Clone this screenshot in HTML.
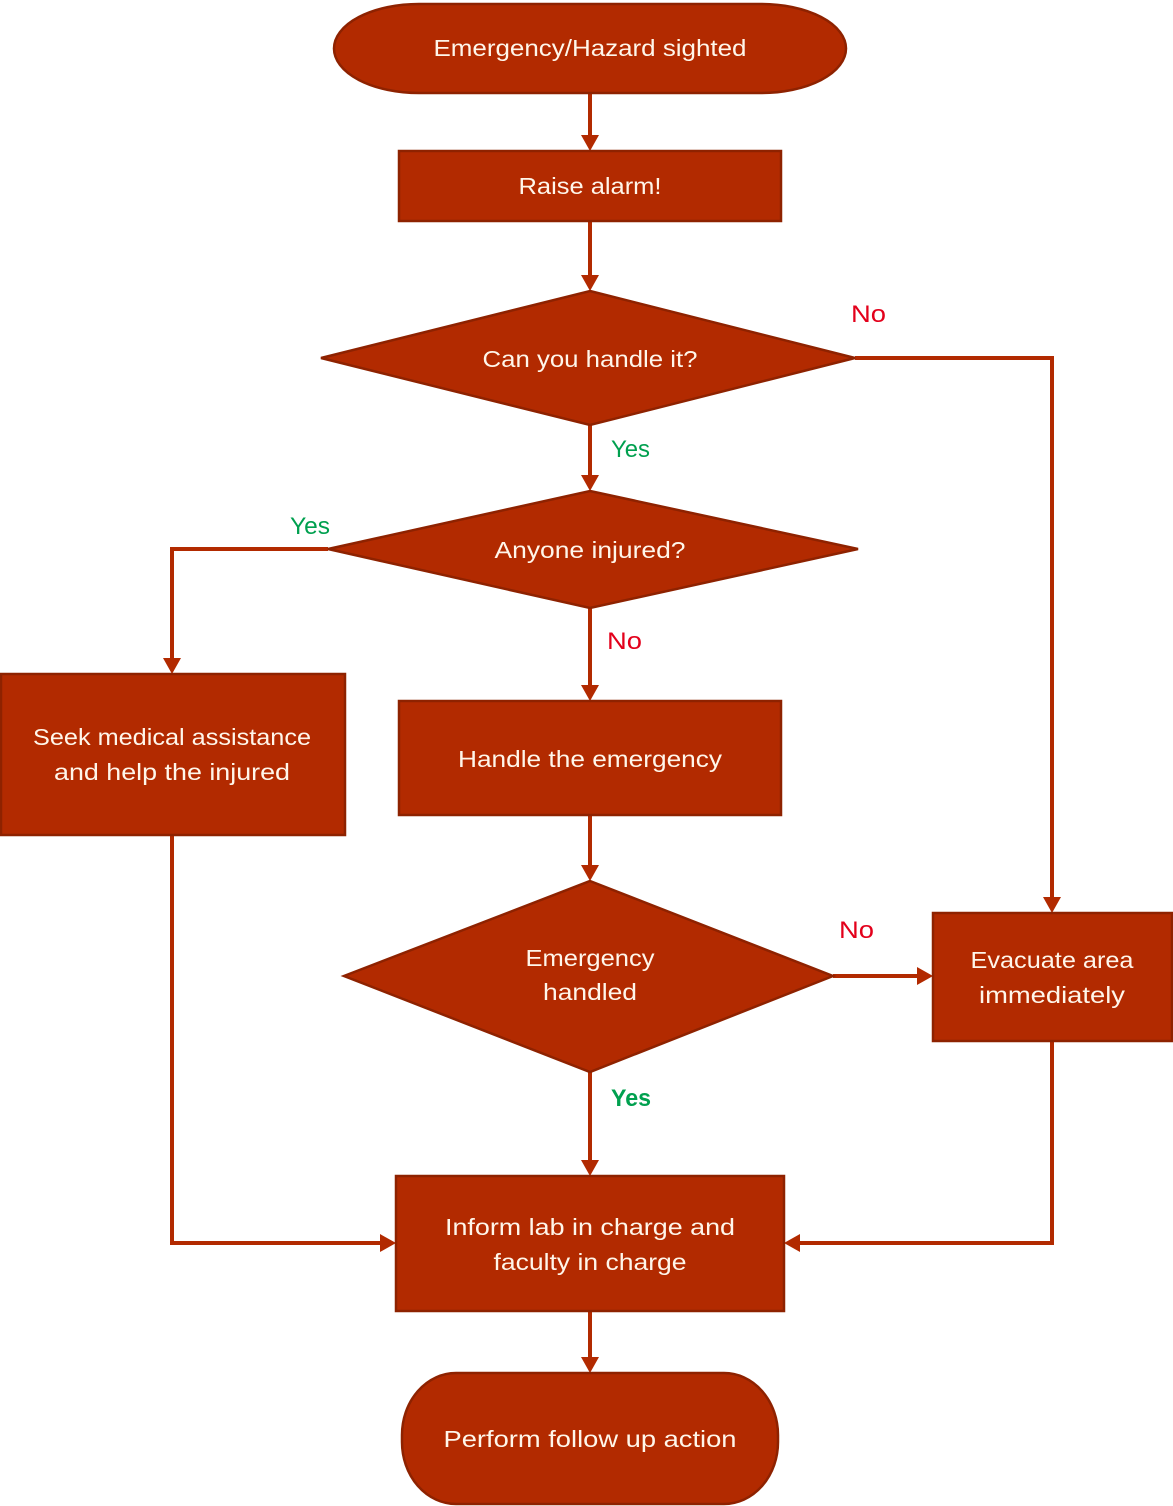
<!DOCTYPE html>
<html><head><meta charset="utf-8"><style>
html,body{margin:0;padding:0;background:#fff;}
svg{display:block;}
text{font-family:"Liberation Sans",sans-serif;}
.t{fill:#FFF6EA;font-size:23px;text-anchor:middle;}
.no{fill:#E3001B;font-size:24px;}
.yes{fill:#00A04F;font-size:24px;}
.s{fill:#B22A00;stroke:#8E2200;stroke-width:2.5;}
.l{stroke:#B22A00;stroke-width:4;fill:none;}
.a{fill:#B22A00;}
</style></head><body>
<svg width="1173" height="1506" viewBox="0 0 1173 1506" xmlns="http://www.w3.org/2000/svg">
<g>
<line class="l" x1="590" y1="93" x2="590" y2="138"/>
<polygon class="a" points="581,135 599,135 590,151"/>
<line class="l" x1="590" y1="221" x2="590" y2="278"/>
<polygon class="a" points="581,275 599,275 590,291"/>
<polyline class="l" points="855,358 1052,358 1052,900"/>
<polygon class="a" points="1043,897 1061,897 1052,913"/>
<line class="l" x1="590" y1="425" x2="590" y2="478"/>
<polygon class="a" points="581,475 599,475 590,491"/>
<polyline class="l" points="328,549 172,549 172,661"/>
<polygon class="a" points="163,658 181,658 172,674"/>
<line class="l" x1="590" y1="608" x2="590" y2="688"/>
<polygon class="a" points="581,685 599,685 590,701"/>
<line class="l" x1="590" y1="815" x2="590" y2="868"/>
<polygon class="a" points="581,865 599,865 590,881"/>
<line class="l" x1="833" y1="976" x2="920" y2="976"/>
<polygon class="a" points="917,967 917,985 933,976"/>
<line class="l" x1="590" y1="1072" x2="590" y2="1163"/>
<polygon class="a" points="581,1160 599,1160 590,1176"/>
<polyline class="l" points="172,835 172,1243 383,1243"/>
<polygon class="a" points="380,1234 380,1252 396,1243"/>
<polyline class="l" points="1052,1041 1052,1243 797,1243"/>
<polygon class="a" points="800,1234 800,1252 784,1243"/>
<line class="l" x1="590" y1="1311" x2="590" y2="1360"/>
<polygon class="a" points="581,1357 599,1357 590,1373"/>
</g>
<rect class="s" x="334" y="4" width="512" height="89" rx="85" ry="44.5"/>
<text class="t" x="590" y="56" textLength="313" lengthAdjust="spacingAndGlyphs">Emergency/Hazard sighted</text>

<rect class="s" x="399" y="151" width="382" height="70"/>
<text class="t" x="590" y="194" textLength="143" lengthAdjust="spacingAndGlyphs">Raise alarm!</text>

<polygon class="s" points="590,291 855,358 590,425 321,358"/>
<text class="t" x="590" y="367" textLength="215" lengthAdjust="spacingAndGlyphs">Can you handle it?</text>

<polygon class="s" points="590,491 858,549 590,608 328,549"/>
<text class="t" x="590" y="558" textLength="191" lengthAdjust="spacingAndGlyphs">Anyone injured?</text>

<rect class="s" x="1" y="674" width="344" height="161"/>
<text class="t" x="172" y="745" textLength="278" lengthAdjust="spacingAndGlyphs">Seek medical assistance</text>
<text class="t" x="172" y="780" textLength="236" lengthAdjust="spacingAndGlyphs">and help the injured</text>

<rect class="s" x="399" y="701" width="382" height="114"/>
<text class="t" x="590" y="767" textLength="264" lengthAdjust="spacingAndGlyphs">Handle the emergency</text>

<polygon class="s" points="590,881 833,976 590,1072 344,976"/>
<text class="t" x="590" y="966" textLength="129" lengthAdjust="spacingAndGlyphs">Emergency</text>
<text class="t" x="590" y="1000" textLength="94" lengthAdjust="spacingAndGlyphs">handled</text>

<rect class="s" x="933" y="913" width="239" height="128"/>
<text class="t" x="1052" y="968" textLength="163" lengthAdjust="spacingAndGlyphs">Evacuate area</text>
<text class="t" x="1052" y="1003" textLength="146" lengthAdjust="spacingAndGlyphs">immediately</text>

<rect class="s" x="396" y="1176" width="388" height="135"/>
<text class="t" x="590" y="1235" textLength="290" lengthAdjust="spacingAndGlyphs">Inform lab in charge and</text>
<text class="t" x="590" y="1270" textLength="193" lengthAdjust="spacingAndGlyphs">faculty in charge</text>

<rect class="s" x="402" y="1373" width="376" height="131" rx="54" ry="62"/>
<text class="t" x="590" y="1447" textLength="293" lengthAdjust="spacingAndGlyphs">Perform follow up action</text>

<text class="no" x="851" y="322" textLength="35" lengthAdjust="spacingAndGlyphs">No</text>
<text class="yes" x="611" y="457" textLength="39" lengthAdjust="spacingAndGlyphs">Yes</text>
<text class="yes" x="290" y="534" textLength="40" lengthAdjust="spacingAndGlyphs">Yes</text>
<text class="no" x="607" y="649" textLength="35" lengthAdjust="spacingAndGlyphs">No</text>
<text class="no" x="839" y="938" textLength="35" lengthAdjust="spacingAndGlyphs">No</text>
<text class="yes" x="611" y="1106" font-weight="bold" textLength="40" lengthAdjust="spacingAndGlyphs">Yes</text>
</svg>
</body></html>
